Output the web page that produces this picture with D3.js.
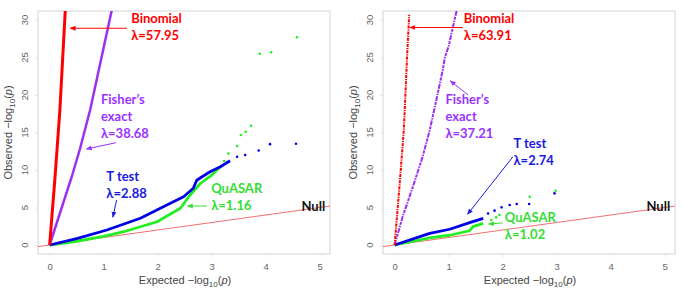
<!DOCTYPE html>
<html>
<head>
<meta charset="utf-8">
<script src="https://d3js.org/d3.v7.min.js"></script>
<style>
  body { margin: 0; background: #fff; }
  svg { display: block; }
  .tick-label { font-family: "Liberation Sans", Arial, sans-serif; font-size: 9.5px; fill: #666; }
  .axis-title { font-family: "Liberation Sans", Arial, sans-serif; font-size: 11px; fill: #444; }
  .note { font-family: Lato, "Open Sans", sans-serif; font-size: 13px; font-weight: bold; }
</style>
</head>
<body>
<div id="chart"></div>
<script>
var w = 683;
var h = 295;

var xTicks = [0, 1, 2, 3, 4, 5];
var yTicks = [0, 5, 10, 15, 20, 25, 30];

// left panel: expected vs observed -log10(p)
var leftBinomial = [[0, 0], [0.1, 9], [0.19, 18], [0.29, 31.3], [0.3, 33]];
var leftFisher = [[0, 0], [0.41, 9.1], [0.565, 12.9], [0.75, 18], [1.15, 31.3], [1.2, 33]];
var leftTtestLine = [[0, 0], [0.5, 0.85], [1.06, 2.0], [1.68, 3.56], [2.17, 5.33], [2.48, 6.44], [2.66, 7.56],
  [2.72, 8.6], [2.8, 9.0], [2.97, 9.77], [3.16, 10.44], [3.34, 11.24]];
var leftTtestDots = [[3.47, 11.77], [3.62, 12.0], [3.87, 12.6], [4.08, 13.45], [4.56, 13.5]];
var leftQuasarLine = [[0, 0], [0.5, 0.5], [1.0, 1.15], [1.37, 1.77], [1.99, 3.1], [2.42, 4.9], [2.6, 6.67],
  [2.79, 8.2], [3.0, 9.33], [3.16, 10.44]];
var leftQuasarDots = [[3.23, 11.2], [3.31, 12.2], [3.47, 13.2], [3.54, 14.67], [3.63, 15.1], [3.73, 15.9],
  [3.89, 25.5], [4.1, 25.7], [4.58, 27.7]];

// right panel
var rightBinomial = [[0, 0], [0.09, 7.8], [0.17, 15.3], [0.2, 20], [0.23, 25], [0.27, 30.7]];
var rightFisher = [[0, 0], [0.15, 3.8], [0.34, 7.8], [0.52, 11.8], [0.65, 15.3], [0.75, 18.6],
  [0.89, 23.3], [0.93, 25], [1.0, 26.5], [1.15, 31.3], [1.18, 32.5]];
var rightTtestLine = [[0, 0], [0.65, 1.56], [1.02, 2.1], [1.39, 2.98], [1.64, 3.56]];
var rightTtestDots = [[1.73, 4.2], [1.85, 4.58], [1.98, 5.02], [2.13, 5.33], [2.26, 5.47], [2.49, 5.47], [2.96, 6.89]];
var rightQuasarLine = [[0, 0], [0.65, 0.95], [1.02, 1.3], [1.39, 1.9], [1.45, 2.44], [1.64, 2.89]];
var rightQuasarDots = [[1.79, 3.33], [1.88, 3.69], [1.94, 4.0], [2.5, 6.44], [2.98, 7.24]];

var nullLine = [[-0.3, -0.3], [5.3, 5.3]];

var colors = { binomial: "#ff0000", fisher: "#9d2ff0", ttest: "#0000e6", quasar: "#22ee22",
  fisherText: "#9933ff", ttestText: "#1a1ae0", quasarText: "#33dd33" };

// annotations in data units
var leftNotes = [
  { lines: ["Binomial", "\u03bb=57.95"], x: 1.51, y: 29.6, color: colors.binomial, arrow: [[1.43, 28.9], [0.38, 28.9]] },
  { lines: ["Fisher\u2019s", "exact", "\u03bb=38.68"], x: 0.95, y: 18.8, color: colors.fisherText, arrow: [[1.23, 13.64], [0.68, 12.8]] },
  { lines: ["T test", "\u03bb=2.88"], x: 1.05, y: 8.53, color: colors.ttestText, arrow: [[1.24, 6.0], [1.17, 3.7]] },
  { lines: ["QuASAR", "\u03bb=1.16"], x: 2.99, y: 6.9, color: colors.quasarText, arrow: [[2.91, 5.2], [2.55, 5.2]] }
];
var rightNotes = [
  { lines: ["Binomial", "\u03bb=63.91"], x: 1.28, y: 29.6, color: colors.binomial, arrow: [[1.26, 29.0], [0.28, 29.0]] },
  { lines: ["Fisher\u2019s", "exact", "\u03bb=37.21"], x: 0.94, y: 18.76, color: colors.fisherText, arrow: [[1.36, 20.0], [1.03, 21.9]] },
  { lines: ["T test", "\u03bb=2.74"], x: 2.2, y: 12.93, color: colors.ttestText, arrow: [[2.19, 11.77], [1.35, 4.1]] },
  { lines: ["QuASAR", "\u03bb=1.02"], x: 2.04, y: 3.1, color: colors.quasarText, arrow: [[2.0, 2.95], [1.74, 2.8]] }
];

var svg = d3.select("#chart").append("svg").attr("width", w).attr("height", h);

var defs = svg.append("defs");
function markerFor(col) {
  var id = "arrow" + col.replace("#", "");
  if (defs.select("#" + id).empty()) {
    defs.append("marker")
      .attr("id", id)
      .attr("viewBox", "0 0 10 10")
      .attr("refX", 9).attr("refY", 5)
      .attr("markerWidth", 6).attr("markerHeight", 6)
      .attr("orient", "auto")
      .append("path")
      .attr("d", "M0,1 L10,5 L0,9 z")
      .attr("fill", col);
  }
  return "url(#" + id + ")";
}

function drawPanel(left, idx, series, notes) {
  var boxL = left, boxR = left + 292, boxT = 11, boxB = 254;
  var x = d3.scaleLinear().domain([-0.215, 5.19]).range([boxL, boxR]);
  var y = d3.scaleLinear().domain([-1.2, 31.2]).range([boxB, boxT]);
  var line = d3.line().x(d => x(d[0])).y(d => y(d[1]));

  var g = svg.append("g");

  defs.append("clipPath").attr("id", "clip" + idx)
    .append("rect").attr("x", boxL).attr("y", boxT).attr("width", boxR - boxL).attr("height", boxB - boxT);

  // box
  g.append("rect")
    .attr("x", boxL).attr("y", boxT)
    .attr("width", boxR - boxL).attr("height", boxB - boxT)
    .attr("fill", "none").attr("stroke", "#e2e2e2").attr("stroke-width", 1.5);

  // x axis
  var xAxis = d3.axisBottom(x).tickValues(xTicks).tickFormat(d3.format("d")).tickSize(3).tickPadding(6);
  var gx = g.append("g").attr("transform", "translate(0," + boxB + ")").call(xAxis);
  gx.select(".domain").remove();
  gx.selectAll(".tick line").attr("stroke", "#e4e4e4");
  gx.selectAll(".tick text").attr("class", "tick-label");
  gx.attr("font-size", null).attr("font-family", null);

  // y axis, labels rotated like R
  var yAxis = d3.axisLeft(y).tickValues(yTicks).tickSize(3).tickFormat("");
  var gy = g.append("g").attr("transform", "translate(" + boxL + ",0)").call(yAxis);
  gy.select(".domain").remove();
  gy.selectAll(".tick line").attr("stroke", "#e4e4e4");
  g.selectAll(".ylab").data(yTicks).enter().append("text")
    .attr("class", "tick-label")
    .attr("text-anchor", "middle")
    .attr("transform", d => "translate(" + (boxL - 10.5) + "," + y(d) + ") rotate(-90)")
    .text(d => d);

  // axis titles
  var xt = g.append("text").attr("class", "axis-title")
    .attr("x", (boxL + boxR) / 2 + 1).attr("y", 284).attr("text-anchor", "middle");
  xt.append("tspan").text("Expected  \u2212log");
  xt.append("tspan").attr("font-size", "8px").attr("dy", 2.5).text("10");
  xt.append("tspan").attr("dy", -2.5).text("(");
  xt.append("tspan").attr("font-style", "italic").text("p");
  xt.append("tspan").text(")");

  var yt = g.append("text").attr("class", "axis-title")
    .attr("transform", "translate(" + (boxL - 26) + "," + ((boxT + boxB) / 2) + ") rotate(-90)")
    .attr("text-anchor", "middle");
  yt.append("tspan").text("Observed  \u2212log");
  yt.append("tspan").attr("font-size", "8px").attr("dy", 2.5).text("10");
  yt.append("tspan").attr("dy", -2.5).text("(");
  yt.append("tspan").attr("font-style", "italic").text("p");
  yt.append("tspan").text(")");

  var plot = g.append("g").attr("clip-path", "url(#clip" + idx + ")");

  // null line y = x
  plot.append("path").datum(nullLine).attr("d", line)
    .attr("fill", "none").attr("stroke", "#f07070").attr("stroke-width", 1);

  plot.append("path").datum(series.quasarLine).attr("d", line)
    .attr("fill", "none").attr("stroke", colors.quasar).attr("stroke-width", 2.8).attr("stroke-linejoin", "round");
  plot.append("path").datum(series.ttestLine).attr("d", line)
    .attr("fill", "none").attr("stroke", colors.ttest).attr("stroke-width", 2.8).attr("stroke-linejoin", "round");

  plot.selectAll(".qdot").data(series.quasarDots).enter().append("circle")
    .attr("cx", d => x(d[0])).attr("cy", d => y(d[1])).attr("r", 1.3).attr("fill", colors.quasar);
  plot.selectAll(".tdot").data(series.ttestDots).enter().append("circle")
    .attr("cx", d => x(d[0])).attr("cy", d => y(d[1])).attr("r", 1.3).attr("fill", colors.ttest);

  var fp = plot.append("path").datum(series.fisher).attr("d", line)
    .attr("fill", "none").attr("stroke", colors.fisher).attr("stroke-width", series.dashed ? 2 : 2.5);
  var bp = plot.append("path").datum(series.binomial).attr("d", line)
    .attr("fill", "none").attr("stroke", colors.binomial).attr("stroke-width", series.dashed ? 2 : 3);
  if (series.dashed) {
    fp.attr("stroke-dasharray", "5,1,1.5,1,3,1");
    bp.attr("stroke-dasharray", "3,1,1.2,1");
  }

  // annotations
  notes.forEach(function(n) {
    g.append("path").datum(n.arrow).attr("d", line)
      .attr("fill", "none").attr("stroke", n.color).attr("stroke-width", 1)
      .attr("marker-end", markerFor(n.color));
    var t = g.append("text").attr("class", "note").attr("fill", n.color)
      .attr("x", x(n.x)).attr("y", y(n.y));
    n.lines.forEach(function(s, i) {
      t.append("tspan").attr("x", x(n.x)).attr("dy", i === 0 ? 0 : 16.8).text(s);
    });
  });

  g.append("text").attr("class", "note").attr("fill", "#111")
    .attr("text-anchor", "end")
    .attr("x", x(5.1)).attr("y", y(4.55))
    .text("Null");
}

drawPanel(38, 0, {
  binomial: leftBinomial, fisher: leftFisher,
  ttestLine: leftTtestLine, ttestDots: leftTtestDots,
  quasarLine: leftQuasarLine, quasarDots: leftQuasarDots, dashed: false
}, leftNotes);

drawPanel(383, 1, {
  binomial: rightBinomial, fisher: rightFisher,
  ttestLine: rightTtestLine, ttestDots: rightTtestDots,
  quasarLine: rightQuasarLine, quasarDots: rightQuasarDots, dashed: true
}, rightNotes);
</script>
</body>
</html>
